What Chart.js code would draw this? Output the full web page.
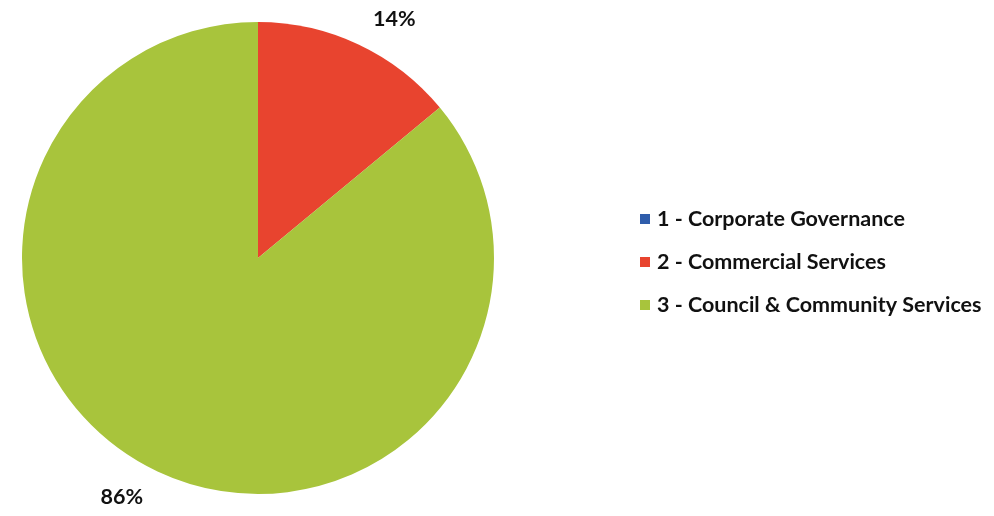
<!DOCTYPE html>
<html>
<head>
<meta charset="utf-8">
<script src="https://cdn.jsdelivr.net/npm/chart.js@4"></script>
<style>
    html, body { margin: 0; padding: 0; background: #fff; }
    #wrap { width: 994px; height: 516px; position: relative; }
</style>
</head>
<body>
<div id="wrap"><canvas id="pie-chart" width="994" height="516"></canvas></div>
<script>
// divisioni e percentuali
const categorie = ['1 - Corporate Governance', '2 - Commercial Services', '3 - Council & Community Services'];
const valori = [0, 14, 86];
const colori = ['#2f5dab', '#e8442f', '#a8c43c'];

const FONT = 'Lato, "Open Sans", sans-serif';

// etichette percentuali fuori dalla torta
const etichettePlugin = {
    id: 'etichette',
    afterDatasetsDraw(chart) {
        const c = chart.ctx;
        const meta = chart.getDatasetMeta(0);
        c.save();
        c.font = 'bold 21.5px ' + FONT;
        c.fillStyle = '#111';
        c.textAlign = 'center';
        c.textBaseline = 'middle';
        meta.data.forEach((arc, i) => {
            if (!valori[i]) return;
            const p = arc.getProps(['x', 'y', 'startAngle', 'endAngle', 'outerRadius'], true);
            const a = (p.startAngle + p.endAngle) / 2 + 4.5 * Math.PI / 180;
            const r = p.outerRadius + 39;
            c.fillText(valori[i] + '%', p.x + Math.cos(a) * r, p.y + Math.sin(a) * r);
        });
        c.restore();
    }
};

// legenda a destra
const legendaPlugin = {
    id: 'legenda',
    afterDraw(chart) {
        const c = chart.ctx;
        c.save();
        c.font = 'bold 21.5px ' + FONT;
        c.textBaseline = 'middle';
        chart.data.labels.forEach((lab, i) => {
            const y = 219 + i * 43;
            c.fillStyle = chart.data.datasets[0].backgroundColor[i];
            c.fillRect(640, y - 5, 10, 10);
            c.fillStyle = '#111';
            c.fillText(lab, 657, y);
        });
        c.restore();
    }
};

const ctx = document.getElementById('pie-chart').getContext('2d');
new Chart(ctx, {
    type: 'pie',
    data: {
        labels: categorie,
        datasets: [{
            data: valori,
            backgroundColor: colori,
            borderWidth: 0
        }]
    },
    options: {
        responsive: false,
        animation: false,
        layout: { padding: { left: 22, right: 500, top: 22, bottom: 22 } },
        plugins: {
            legend: { display: false },
            tooltip: { enabled: false }
        }
    },
    plugins: [etichettePlugin, legendaPlugin]
});
</script>
</body>
</html>
